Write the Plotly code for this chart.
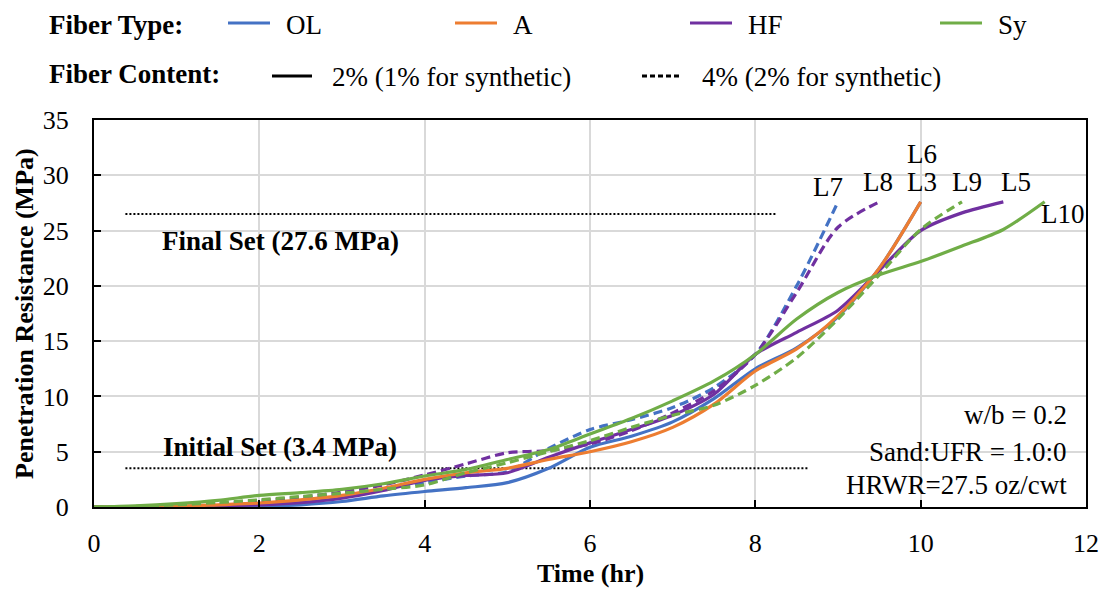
import plotly.graph_objects as go

# ---------------- data ----------------
t_L3 = [0, 0.5, 1, 1.5, 2, 2.5, 3, 3.5, 4, 4.5, 5, 5.5, 6, 6.5, 7, 7.5, 8, 8.5, 9, 9.5, 10]
v_L3 = [0, 0, 0, 0.02, 0.06, 0.2, 0.5, 1.0, 1.4, 1.75, 2.2, 3.5, 5.4, 6.4, 7.7, 9.8, 12.5, 14.4, 17.2, 21.6, 27.6]

t_L6 = [0, 0.5, 1, 1.5, 2, 2.5, 3, 3.5, 4, 4.5, 5, 5.5, 6, 6.5, 7, 7.5, 8, 8.5, 9, 9.5, 10]
v_L6 = [0, 0, 0.05, 0.2, 0.36, 0.65, 1.05, 1.7, 2.5, 3.1, 3.5, 4.3, 5.0, 5.9, 7.2, 9.3, 12.3, 14.3, 17.3, 21.6, 27.6]

t_L5 = [0, 0.5, 1, 1.5, 2, 2.5, 3, 3.5, 4, 4.5, 5, 5.5, 6, 6.5, 7, 7.5, 8, 8.5, 9, 9.5, 10, 10.5, 11]
v_L5 = [0, 0, 0.03, 0.1, 0.2, 0.4, 0.8, 1.5, 2.4, 2.85, 3.1, 4.5, 5.8, 7.0, 8.3, 10.2, 13.8, 15.8, 17.8, 21.4, 25.0, 26.6, 27.6]

t_L8 = [0, 0.5, 1, 1.5, 2, 2.5, 3, 3.5, 4, 4.5, 5, 5.5, 6, 6.5, 7, 7.5, 8, 8.5, 9, 9.5]
v_L8 = [0, 0, 0.1, 0.3, 0.55, 0.9, 1.35, 2.0, 2.9, 3.9, 4.9, 5.1, 5.7, 6.9, 8.5, 10.5, 13.8, 19.4, 25.3, 27.6]

t_L7 = [0, 0.5, 1, 1.5, 2, 2.5, 3, 3.5, 4, 4.5, 5, 5.5, 6, 6.5, 7, 7.5, 8, 8.5, 9]
v_L7 = [0, 0, 0.05, 0.2, 0.4, 0.7, 1.1, 1.6, 2.2, 2.8, 3.2, 5.3, 7.0, 7.9, 9.0, 10.8, 13.8, 20.0, 27.6]

t_L10 = [0, 0.5, 1, 1.5, 2, 2.5, 3, 3.5, 4, 4.5, 5, 5.5, 6, 6.5, 7, 7.5, 8, 8.5, 9, 9.5, 10, 10.5, 11, 11.5]
v_L10 = [0, 0.1, 0.3, 0.6, 1.05, 1.3, 1.6, 2.1, 2.8, 3.4, 4.3, 5.2, 6.6, 8.0, 9.6, 11.4, 13.8, 17.0, 19.4, 21.0, 22.2, 23.6, 25.1, 27.6]

t_L9 = [0, 0.5, 1, 1.5, 2, 2.5, 3, 3.5, 4, 4.5, 5, 5.5, 6, 6.5, 7, 7.5, 8, 8.5, 9, 9.5, 10, 10.5]
v_L9 = [0, 0.05, 0.2, 0.4, 0.65, 0.95, 1.25, 1.6, 2.0, 3.1, 4.0, 5.0, 6.0, 7.2, 8.3, 9.2, 11.0, 13.5, 17.0, 21.0, 25.1, 27.6]

final_x = [0.38, 8.25]
final_set_y = [26.5, 26.5]
init_x = [0.38, 8.65]
init_set_y = [3.5, 3.5]

fiber_types = ["OL", "A", "HF", "Sy"]
content_labels = ["2% (1% for synthetic)", "4% (2% for synthetic)"]

BLUE = "#4472C4"
ORANGE = "#ED7D31"
PURPLE = "#7030A0"
GREEN = "#70AD47"
type_colors = [BLUE, ORANGE, PURPLE, GREEN]

FONT = "Liberation Serif"
FS = 26
FA = 27
DASH = "9px,5px"

series = [
    ("L3", t_L3, v_L3, BLUE, "solid"),
    ("L7", t_L7, v_L7, BLUE, DASH),
    ("L8", t_L8, v_L8, PURPLE, DASH),
    ("L5", t_L5, v_L5, PURPLE, "solid"),
    ("L6", t_L6, v_L6, ORANGE, "solid"),
    ("L9", t_L9, v_L9, GREEN, DASH),
    ("L10", t_L10, v_L10, GREEN, "solid"),
]

fig = go.Figure()

for x, y in [(final_x, final_set_y), (init_x, init_set_y)]:
    fig.add_trace(go.Scatter(x=x, y=y, mode="lines", showlegend=False,
                             line=dict(color="black", width=2, dash="2px,2px")))

for name, t, v, c, d in series:
    fig.add_trace(go.Scatter(x=t, y=v, mode="lines", name=name, showlegend=False,
                             line=dict(color=c, width=3.2, dash=d, shape="spline", smoothing=0.8)))

# ---------------- layout ----------------
L, R, T, B = 94, 1086, 120, 507


def px(xp):
    return (xp - L) / (R - L)


def py(yp):
    return (B - yp) / (B - T)


annotations = []
shapes = []

# legend row 1
annotations.append(dict(xref="paper", yref="paper", x=px(47), y=py(25), text="<b>Fiber Type:</b>",
                        showarrow=False, xanchor="left", yanchor="middle", font=dict(size=FA)))
leg_x = [228, 455, 690, 940]
for lx, name, c in zip(leg_x, fiber_types, type_colors):
    shapes.append(dict(type="line", xref="paper", yref="paper", x0=px(lx), x1=px(lx + 42),
                       y0=py(23), y1=py(23), line=dict(color=c, width=3.2)))
    annotations.append(dict(xref="paper", yref="paper", x=px(lx + 56), y=py(25), text=name,
                            showarrow=False, xanchor="left", yanchor="middle", font=dict(size=FA)))

# legend row 2
annotations.append(dict(xref="paper", yref="paper", x=px(47), y=py(74), text="<b>Fiber Content:</b>",
                        showarrow=False, xanchor="left", yanchor="middle", font=dict(size=FA)))
for lx, lab, d in zip([272, 642], content_labels, ["solid", "5px,3px"]):
    shapes.append(dict(type="line", xref="paper", yref="paper", x0=px(lx), x1=px(lx + 40),
                       y0=py(76), y1=py(76), line=dict(color="black", width=3.2, dash=d)))
    annotations.append(dict(xref="paper", yref="paper", x=px(lx + 58), y=py(77), text=lab,
                            showarrow=False, xanchor="left", yanchor="middle", font=dict(size=FA)))

# axis titles
annotations.append(dict(xref="paper", yref="paper", x=px(590), y=py(573), text="<b>Time (hr)</b>",
                        showarrow=False, xanchor="center", yanchor="middle", font=dict(size=FS)))
annotations.append(dict(xref="paper", yref="paper", x=px(24), y=py(314),
                        text="<b>Penetration Resistance (MPa)</b>", textangle=-90,
                        showarrow=False, xanchor="center", yanchor="middle", font=dict(size=FS)))

# set labels
annotations.append(dict(x=2.25, y=24.1, text="<b>Final Set (27.6 MPa)</b>", showarrow=False,
                        font=dict(size=FA)))
annotations.append(dict(x=2.25, y=5.4, text="<b>Initial Set (3.4 MPa)</b>", showarrow=False,
                        font=dict(size=FA)))

# mix info
for yv, txt in [(8.3, "w/b = 0.2"), (5.0, "Sand:UFR = 1.0:0"), (2.0, "HRWR=27.5 oz/cwt")]:
    annotations.append(dict(x=11.8, y=yv, text=txt, showarrow=False, xanchor="right",
                            font=dict(size=FA)))

# series labels
for lab, xv, yv in [("L7", 8.88, 28.9), ("L8", 9.48, 29.4), ("L6", 10.02, 31.9), ("L3", 10.02, 29.4),
                    ("L9", 10.56, 29.4), ("L5", 11.15, 29.4), ("L10", 11.72, 26.5)]:
    annotations.append(dict(x=xv, y=yv, text=lab, showarrow=False, font=dict(size=FA)))

fig.update_layout(
    width=1101, height=589,
    margin=dict(l=L, r=1101 - R, t=T, b=589 - B),
    paper_bgcolor="white", plot_bgcolor="white",
    font=dict(family=FONT, size=FS, color="black"),
    annotations=annotations, shapes=shapes,
    showlegend=False,
)
fig.update_xaxes(range=[0, 12], dtick=2, tick0=0, showgrid=True, gridcolor="#d9d9d9", gridwidth=1.5,
                 showline=True, mirror=True, linecolor="black", linewidth=2, ticks="inside", ticklen=7,
                 tickwidth=2, tickcolor="black", zeroline=False, ticklabelstandoff=12, automargin=False)
fig.update_yaxes(range=[0, 35], dtick=5, tick0=0, showgrid=True, gridcolor="#d9d9d9", gridwidth=1.5,
                 showline=True, mirror=True, linecolor="black", linewidth=2, ticks="inside", ticklen=7,
                 tickwidth=2, tickcolor="black", zeroline=False, ticklabelstandoff=18, automargin=False)

fig.write_html("out.html")
